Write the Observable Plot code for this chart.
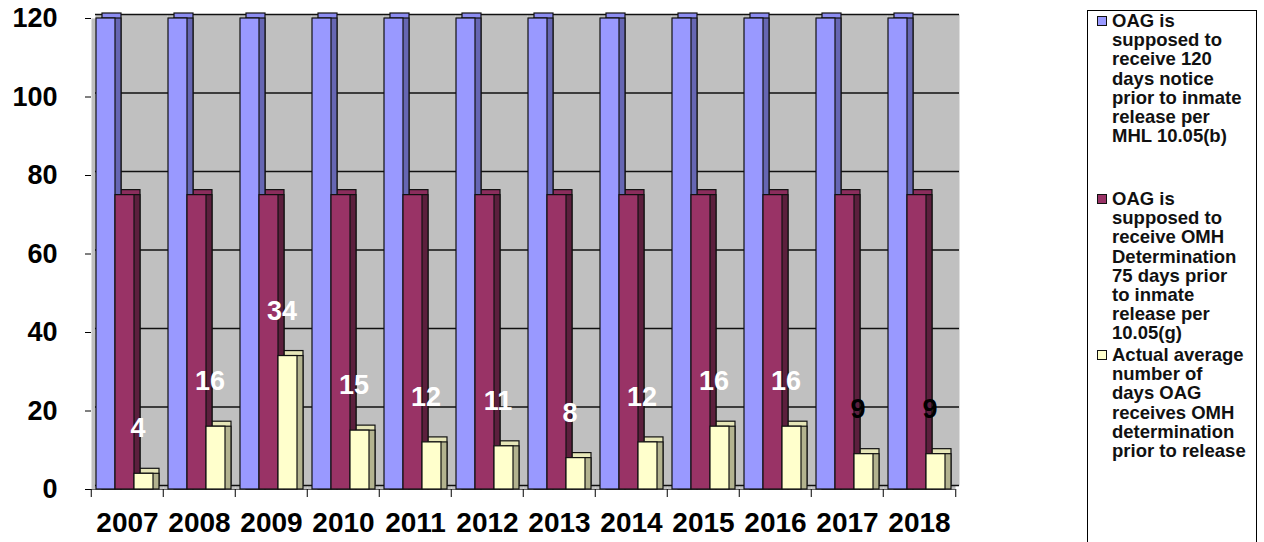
<!DOCTYPE html>
<html>
<head>
<meta charset="utf-8">
<script src="https://cdn.jsdelivr.net/npm/d3@7"></script>
<script src="https://cdn.jsdelivr.net/npm/@observablehq/plot@0.6"></script>
<style>
  html, body { margin: 0; padding: 0; background: white; }
  #wrap { position: relative; width: 1264px; height: 542px; overflow: hidden; }
  #legend { position: absolute; left: 1087px; top: 10px; width: 170px; height: 540px;
            border: 1px solid black; box-sizing: border-box;
            font-family: "Liberation Sans", Arial, sans-serif; font-weight: bold;
            font-size: 18.5px; line-height: 19.2px; color: #111; }
  .item { position: absolute; left: 0; white-space: nowrap; }
  .sw { position: absolute; left: 9px; top: 5px; width: 8px; height: 8px; border: 1.5px solid #111; }
  .txt { position: absolute; left: 24px; top: 0; }
</style>
</head>
<body>
<div id="wrap">
  <div id="chart"></div>
  <div id="legend"></div>
</div>
<script>
// ---- data ----
const years = ["2007","2008","2009","2010","2011","2012","2013","2014","2015","2016","2017","2018"];
const noticeDays = [120,120,120,120,120,120,120,120,120,120,120,120];
const determinationDays = [75,75,75,75,75,75,75,75,75,75,75,75];
const actualDays = [4,16,34,15,12,11,8,12,16,16,9,9];
const seriesKeys = ["notice", "determination", "actual"];
const seriesLabels = [
  ["OAG is", "supposed to", "receive 120", "days notice", "prior to inmate", "release per", "MHL 10.05(b)"],
  ["OAG is", "supposed to", "receive OMH", "Determination", "75 days prior", "to inmate", "release per", "10.05(g)"],
  ["Actual average", "number of", "days OAG", "receives OMH", "determination", "prior to release"]
];
const yTicks = [0, 20, 40, 60, 80, 100, 120];

// ---- styles ----
const frontColor = {notice: "#9999FF", determination: "#993366", actual: "#FFFFCC"};
const topColor   = {notice: "#8c8cf0", determination: "#8a2d5c", actual: "#e6e6b8"};
const sideColor  = {notice: "#6666B3", determination: "#5c1f3d", actual: "#B3B38F"};

const table = [];
years.forEach((y, i) => {
  table.push({year: y, series: "notice", value: noticeDays[i]});
  table.push({year: y, series: "determination", value: determinationDays[i]});
  table.push({year: y, series: "actual", value: actualDays[i]});
});
const labelRows = table.filter(d => d.series === "actual");

const W = 1264, H = 542, mL = 88, mR = 306, mT = 18, mB = 53;
const halfBand = (W - mL - mR) / years.length / 2;
const font = "Liberation Sans, Arial, sans-serif";

const barOpts = {fx: "year", x: "series", y: "value", stroke: "#111", strokeWidth: 1.2};

const chart = Plot.plot({
  width: W, height: H,
  marginLeft: mL, marginRight: mR, marginTop: mT, marginBottom: mB,
  style: {fontFamily: font, background: "white", color: "black", overflow: "visible"},
  fx: {domain: years, padding: 0, label: null},
  x: {domain: seriesKeys, paddingInner: 0, paddingOuter: 0.35, align: 0.3, axis: null},
  y: {domain: [0, 120], label: null},
  color: {type: "identity"},
  marks: [
    Plot.frame({fill: "#c0c0c0", stroke: "none"}),
    Plot.frame({fill: "#c0c0c0", stroke: "none", dx: 4, dy: -4}),
    Plot.gridY(yTicks, {stroke: "#111", strokeOpacity: 1, strokeWidth: 1.3, dx: 4, dy: -4}),
    Plot.ruleY([0], {stroke: "#666", strokeWidth: 1}),
    Plot.barY(table, {...barOpts, fill: d => topColor[d.series], dx: 6, dy: -5}),
    Plot.barY(table, {...barOpts, fill: d => sideColor[d.series], dx: 6}),
    Plot.barY(table, {...barOpts, fill: d => frontColor[d.series]}),
    Plot.text(labelRows, {
      fx: "year", x: "series", y: "value", text: d => String(d.value),
      dy: -45, dx: -6, fontSize: 27, fontWeight: "bold",
      fill: d => (+d.year >= 2017 ? "black" : "white")
    }),
    Plot.axisY({ticks: yTicks, tickSize: 6, tickPadding: 28, fontSize: 27, fontWeight: "bold", label: null}),
    Plot.axisFx({anchor: "bottom", tickSize: 0, tickPadding: 23, fontSize: 28, fontWeight: "bold", label: null}),
    Plot.axisFx({anchor: "bottom", tickSize: 8, tickFormat: () => "", dx: -halfBand, label: null}),
    Plot.axisFx({anchor: "bottom", ticks: [years[years.length - 1]], tickSize: 8, tickFormat: () => "", dx: halfBand, label: null})
  ]
});
document.getElementById("chart").appendChild(chart);

// ---- legend ----
const legend = document.getElementById("legend");
const itemTops = [0, 178, 334];
seriesKeys.forEach((k, i) => {
  const item = document.createElement("div");
  item.className = "item";
  item.style.top = itemTops[i] + "px";
  const sw = document.createElement("div");
  sw.className = "sw";
  sw.style.background = frontColor[k];
  const txt = document.createElement("div");
  txt.className = "txt";
  txt.innerHTML = seriesLabels[i].join("<br>");
  item.appendChild(sw);
  item.appendChild(txt);
  legend.appendChild(item);
});
</script>
</body>
</html>
